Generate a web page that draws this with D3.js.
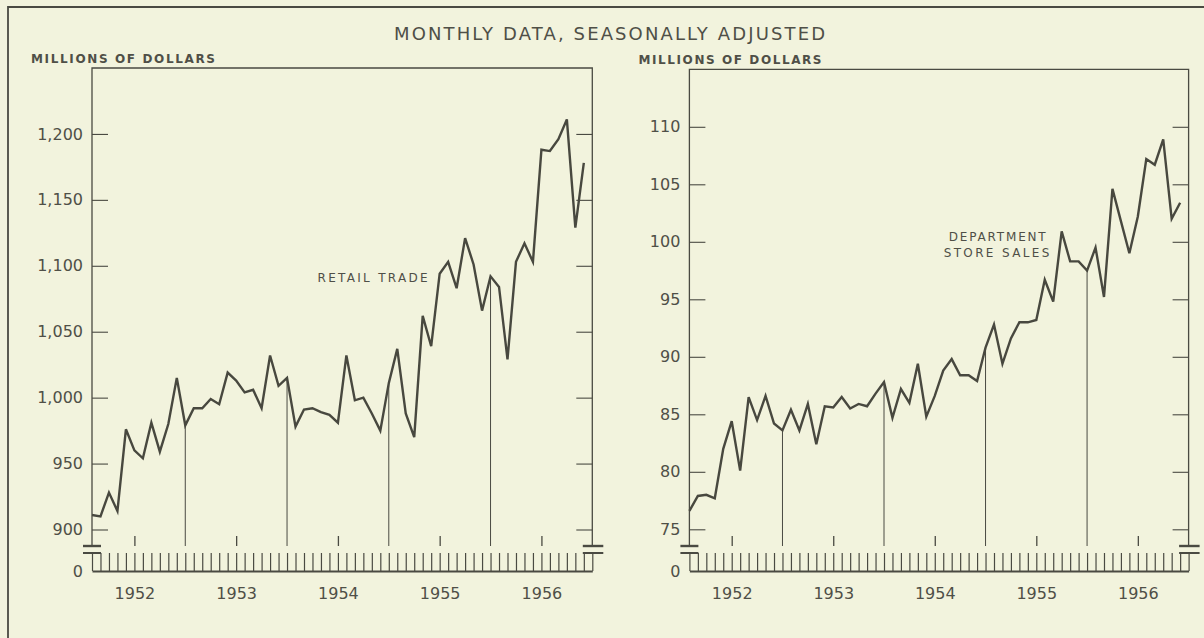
<!DOCTYPE html>
<html>
<head>
<meta charset="utf-8">
<script src="https://cdn.jsdelivr.net/npm/d3@7"></script>
<style>
  html, body { margin: 0; padding: 0; background: #f2f3dd; }
  svg { display: block; }
  text { font-family: "DejaVu Sans", sans-serif; fill: #4f4f47; }
</style>
</head>
<body>
<svg id="chart" width="1204" height="638"></svg>
<script>
// ---- DATA (monthly, seasonally adjusted; Feb 1952 .. Dec 1956) ----
const retailTrade = [911, 910, 928, 914, 976, 960, 954, 981, 959, 980, 1015, 979,
  992, 992, 999, 995, 1019, 1013, 1004, 1006, 992, 1032, 1009, 1015,
  978, 991, 992, 989, 987, 981, 1032, 998, 1000, 988, 975, 1011,
  1037, 988, 970, 1062, 1039, 1094, 1103, 1083, 1121, 1101, 1066, 1092,
  1084, 1029, 1103, 1117, 1103, 1188, 1187, 1196, 1211, 1129, 1178];
const deptStoreSales = [76.6, 77.9, 78.0, 77.7, 82.0, 84.4, 80.1, 86.5, 84.5, 86.6, 84.2, 83.6,
  85.4, 83.6, 85.9, 82.4, 85.7, 85.6, 86.5, 85.5, 85.9, 85.7, 86.8, 87.8,
  84.7, 87.2, 86.0, 89.4, 84.8, 86.6, 88.8, 89.8, 88.4, 88.4, 87.9, 90.8,
  92.8, 89.4, 91.6, 93.0, 93.0, 93.2, 96.7, 94.8, 100.9, 98.3, 98.3, 97.5,
  99.5, 95.2, 104.6, 101.8, 99.0, 102.2, 107.2, 106.7, 108.9, 102.0, 103.4];
const retailTicks = [900, 950, 1000, 1050, 1100, 1150, 1200];
const deptTicks = [75, 80, 85, 90, 95, 100, 105, 110];
const yearLabels = ["1952", "1953", "1954", "1955", "1956"];
const titleText = "MONTHLY DATA, SEASONALLY ADJUSTED";
const unitText = "MILLIONS OF DOLLARS";

// months counted from Jan 1, 1952 (month boundary index); first point at month 1
const midYears = yearLabels.map((_, i) => 6 + 12 * i);
const yearEnds = [12, 24, 36, 48];
const allMonths = d3.range(1, 61);

const ink = "#4a4a42";
const svg = d3.select("#chart");

// outer border
svg.append("path").attr("d", "M8,638V7H1204")
  .attr("fill", "none").attr("stroke", ink).attr("stroke-width", 1.8);

// title
svg.append("text").attr("x", 394).attr("y", 40)
  .attr("textLength", 431).attr("lengthAdjust", "spacing")
  .style("font-size", "18px").text(titleText);

const BREAK = 546, STRIP_TOP = 553, BASE = 571;

function panel(cfg) {
  const x = d3.scaleLinear().domain([1, 60]).range([cfg.x0, cfg.x1]);
  const y = d3.scaleLinear().domain(cfg.yDomain).range(cfg.yRange);
  const data = cfg.values.map((v, i) => ({ m: i + 1, v }));
  const g = svg.append("g");
  const yTop = y(cfg.yDomain[1]);

  // unit label
  g.append("text").attr("x", cfg.unitX).attr("y", cfg.unitY)
    .attr("textLength", cfg.unitW).attr("lengthAdjust", "spacing")
    .style("font-size", "12px").style("font-weight", "600").text(unitText);

  // frame
  g.append("path")
    .attr("d", `M${cfg.x0},${BREAK}V${yTop}H${cfg.x1}V${BREAK}`)
    .attr("fill", "none").attr("stroke", ink).attr("stroke-width", 1.3);

  // left y axis
  const ya = g.append("g").attr("transform", `translate(${cfg.x0},0)`)
    .call(d3.axisLeft(y).tickValues(cfg.ticks).tickSize(-16).tickPadding(9)
      .tickFormat(cfg.fmt));
  ya.select(".domain").remove();
  ya.selectAll("line").attr("stroke", ink).attr("stroke-width", 1.1);
  ya.selectAll("text").style("font-size", "16px").style("font-family", "DejaVu Sans")
    .attr("fill", "#52524a");

  // right ticks
  const yr = g.append("g").attr("transform", `translate(${cfg.x1},0)`)
    .call(d3.axisRight(y).tickValues(cfg.ticks).tickSize(-16).tickFormat(""));
  yr.select(".domain").remove();
  yr.selectAll("line").attr("stroke", ink).attr("stroke-width", 1.1);

  // mid-year ticks above the break
  const mt = g.append("g").attr("transform", `translate(0,${BREAK})`)
    .call(d3.axisTop(x).tickValues(midYears).tickSize(10).tickFormat(""));
  mt.select(".domain").remove();
  mt.selectAll("line").attr("stroke", ink).attr("stroke-width", 1.3);

  // year boundary drop lines
  g.selectAll("line.yearline").data(yearEnds).join("line")
    .attr("class", "yearline")
    .attr("x1", m => x(m)).attr("x2", m => x(m))
    .attr("y1", m => y(data[m - 1].v)).attr("y2", BREAK)
    .attr("stroke", ink).attr("stroke-width", 1);

  // data line
  g.append("path").datum(data)
    .attr("d", d3.line().x(d => x(d.m)).y(d => y(d.v)))
    .attr("fill", "none").attr("stroke", "#48483f")
    .attr("stroke-width", 2.4).attr("stroke-linejoin", "miter");

  // series label
  cfg.label.forEach(l => {
    g.append("text").attr("x", l.x).attr("y", l.y)
      .attr("textLength", l.w).attr("lengthAdjust", "spacing")
      .style("font-size", "12px").text(l.t);
  });

  // break marks
  [[cfg.x0 - 9, cfg.x0 + 9], [cfg.x1 - 9.5, cfg.x1 + 11]].forEach(([a, b]) => {
    g.append("line").attr("x1", a).attr("x2", b).attr("y1", BREAK).attr("y2", BREAK)
      .attr("stroke", ink).attr("stroke-width", 2.4);
    g.append("line").attr("x1", a).attr("x2", b).attr("y1", STRIP_TOP).attr("y2", STRIP_TOP)
      .attr("stroke", ink).attr("stroke-width", 2);
  });

  // bottom strip with monthly ticks
  const st = g.append("g").attr("transform", `translate(0,${BASE})`)
    .call(d3.axisTop(x).tickValues(allMonths).tickSize(BASE - STRIP_TOP)
      .tickSizeOuter(0).tickFormat(""));
  st.select(".domain").attr("stroke", ink).attr("stroke-width", 2.2);
  st.selectAll("line").attr("stroke", ink).attr("stroke-width", 1.2);

  // zero label
  g.append("text").attr("x", cfg.x0 - 9).attr("y", BASE).attr("dy", "0.35em")
    .attr("text-anchor", "end").style("font-size", "16px").text("0");

  // year labels
  const yl = g.append("g").attr("transform", `translate(0,${BASE})`)
    .call(d3.axisBottom(x).tickValues(midYears).tickSize(0).tickPadding(17)
      .tickFormat((m, i) => yearLabels[i]));
  yl.select(".domain").remove();
  yl.selectAll("text").style("font-size", "16px").style("font-family", "DejaVu Sans")
    .attr("fill", "#52524a");
}

panel({
  x0: 92, x1: 592.3,
  yDomain: [900, 1250], yRange: [529.5, 68],
  ticks: retailTicks, fmt: d3.format(","),
  values: retailTrade,
  unitX: 31, unitY: 63.3, unitW: 184,
  label: [{ t: "RETAIL TRADE", x: 317.6, y: 281.5, w: 110 }]
});

panel({
  x0: 689.4, x1: 1188.6,
  yDomain: [75, 115], yRange: [529.3, 69.3],
  ticks: deptTicks, fmt: d3.format("d"),
  values: deptStoreSales,
  unitX: 638.5, unitY: 64, unitW: 183,
  label: [
    { t: "DEPARTMENT", x: 948.7, y: 240.7, w: 97 },
    { t: "STORE SALES", x: 943.7, y: 256.7, w: 105.6 }
  ]
});
</script>
</body>
</html>
